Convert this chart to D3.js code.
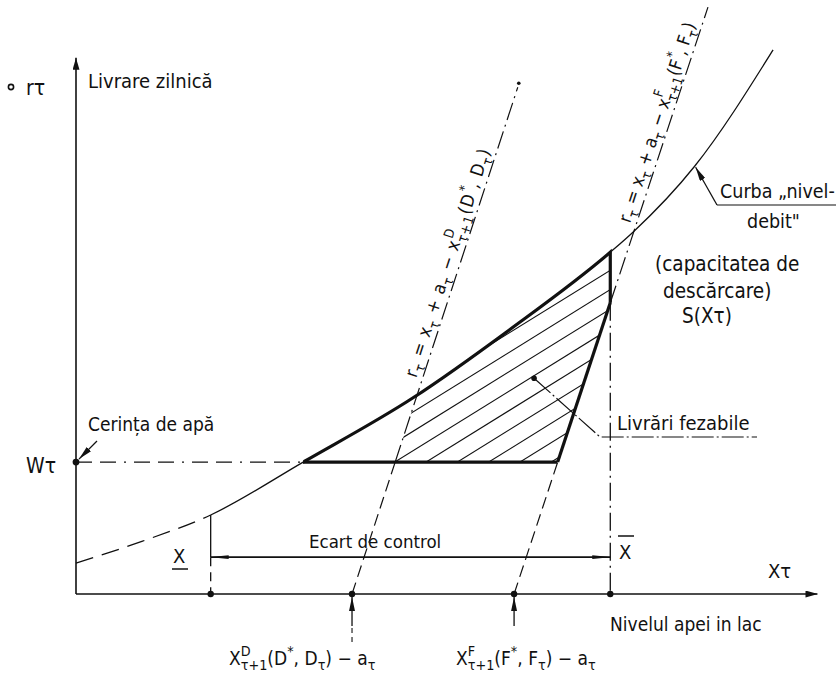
<!DOCTYPE html>
<html>
<head>
<meta charset="utf-8">
<script src="https://cdn.jsdelivr.net/npm/d3@7"></script>
<style>
  body { margin: 0; background: #fff; }
  svg { display: block; }
  text { font-family: "Liberation Sans Narrow", "DejaVu Sans Condensed", "DejaVu Sans", sans-serif; fill: #111; }
</style>
</head>
<body>
<svg id="chart" width="840" height="676"></svg>
<script>
// points marked on the level axis: X lower, x^D, x^F, X upper
const levelNames = ["Xlow", "xD", "xF", "Xhigh"]
const levelValues = [18.2, 37.3, 59.2, 72.2]
const demandW = 24.7      // Wτ, water demand
const ecartY = 6.9        // height of the "Ecart de control" arrow

// curve "nivel-debit" S(Xτ)
const curveX = [0, 9.0, 18.2, 30.7, 45.5, 58.6, 72.2, 75.3, 83.6, 94.2]
const curveY = [5.8, 9.9, 14.8, 24.7, 36.7, 49.5, 64.0, 67.8, 80.1, 101.9]

// the two constraint lines (two points each)
const lineDx = [37.3, 59.7]
const lineDy = [0, 94.9]
const lineFx = [59.2, 85.4]
const lineFy = [0, 109.9]

const feasibleDot = [61.9, 40.4]
const curveArrowAt = 83.6

let svg = d3.select("#chart")

let x = d3.scaleLinear().domain([0, 100]).range([76, 816])
let y = d3.scaleLinear().domain([0, 100]).range([594, 60])

let [xLow, xD, xF, xHigh] = levelValues
let pts = curveX.map((v, i) => [v, curveY[i]])
let curveAt = v => curveY[curveX.indexOf(v)]

// x of a straight line at a given y
let lineAt = (xs, ys, yv) => xs[0] + (yv - ys[0]) * (xs[1] - xs[0]) / (ys[1] - ys[0])
let yOnLine = (xs, ys, xv) => ys[0] + (xv - xs[0]) * (ys[1] - ys[0]) / (xs[1] - xs[0])

// where the curve crosses the demand level
let iW = curveY.findIndex(v => v >= demandW)
let xCurveW = curveX[iW - 1] + (demandW - curveY[iW - 1]) * (curveX[iW] - curveX[iW - 1]) / (curveY[iW] - curveY[iW - 1])
let xDW = lineAt(lineDx, lineDy, demandW)
let xFW = lineAt(lineFx, lineFy, demandW)
let yFHigh = yOnLine(lineFx, lineFy, xHigh)

let defs = svg.append("defs")
function marker(id, path, w, h) {
    defs.append("marker")
        .attr("id", id)
        .attr("viewBox", `0 0 ${w} ${h}`)
        .attr("refX", w).attr("refY", h / 2)
        .attr("markerWidth", w).attr("markerHeight", h)
        .attr("markerUnits", "userSpaceOnUse")
        .attr("orient", "auto-start-reverse")
      .append("path")
        .attr("d", path)
        .attr("fill", "#111")
}
marker("axisArrow", "M0,0 L12,3.5 L0,7 Z", 12, 7)
marker("barArrow", "M0,0.6 L18,2.5 L0,4.4 Z", 18, 5)
marker("leadArrow", "M0,0 L14,3 L0,6 Z", 14, 6)

// clipping regions
defs.append("clipPath").attr("id", "leftOfLow")
  .append("rect").attr("x", 0).attr("y", 0).attr("width", x(xLow)).attr("height", 676)
defs.append("clipPath").attr("id", "rightOfLow")
  .append("rect").attr("x", x(xLow)).attr("y", 0).attr("width", 840).attr("height", 676)
defs.append("clipPath").attr("id", "thickPart")
  .append("rect").attr("x", x(xCurveW)).attr("y", 0).attr("width", x(xHigh) - x(xCurveW) + 1.5).attr("height", 676)

let curveLine = d3.line().x(d => x(d[0])).y(d => y(d[1])).curve(d3.curveMonotoneX)
let underCurve = d3.area().x(d => x(d[0])).y0(y(demandW)).y1(d => y(d[1])).curve(d3.curveMonotoneX)

defs.append("clipPath").attr("id", "underCurve")
  .append("path").attr("d", underCurve(pts))
let polyD = [[xDW, demandW], [lineAt(lineDx, lineDy, 120), 120], [xHigh, 120], [xHigh, yFHigh], [xFW, demandW]]
defs.append("clipPath").attr("id", "betweenLines")
  .append("path").attr("d", "M" + polyD.map(p => [x(p[0]), y(p[1])].join(",")).join("L") + "Z")

function seg(x1, y1, x2, y2, width, dash) {
    return svg.append("line")
        .attr("x1", x(x1)).attr("y1", y(y1))
        .attr("x2", x(x2)).attr("y2", y(y2))
        .attr("stroke", "#111")
        .attr("stroke-width", width)
        .attr("stroke-dasharray", dash || null)
}
const dashed = "12,6"
const chain = "18,5,2,5"

// hatching of the feasible deliveries
let hatch = svg.append("g").attr("clip-path", "url(#underCurve)")
  .append("g").attr("clip-path", "url(#betweenLines)")
let slope = 0.62
let cornerC = y(curveAt(xHigh)) + slope * x(xHigh)
for (let c = cornerC + 18; c < cornerC + 220; c += 19.4) {
    hatch.append("line")
        .attr("x1", 300).attr("y1", c - slope * 300)
        .attr("x2", 640).attr("y2", c - slope * 640)
        .attr("stroke", "#111").attr("stroke-width", 1.1)
}

// axes
svg.append("line")
    .attr("x1", x(0)).attr("y1", y(0)).attr("x2", x(0)).attr("y2", y(100.4))
    .attr("stroke", "#111").attr("stroke-width", 1.6)
    .attr("marker-end", "url(#axisArrow)")
svg.append("line")
    .attr("x1", x(0)).attr("y1", y(0)).attr("x2", x(100.2)).attr("y2", y(0))
    .attr("stroke", "#111").attr("stroke-width", 1.6)
    .attr("marker-end", "url(#axisArrow)")

// curve: dashed below X lower, thin above, thick on the feasible part
svg.append("path").attr("d", curveLine(pts)).attr("clip-path", "url(#leftOfLow)")
    .attr("fill", "none").attr("stroke", "#111").attr("stroke-width", 1.3).attr("stroke-dasharray", "18,9")
svg.append("path").attr("d", curveLine(pts)).attr("clip-path", "url(#rightOfLow)")
    .attr("fill", "none").attr("stroke", "#111").attr("stroke-width", 1.3)
svg.append("path").attr("d", curveLine(pts)).attr("clip-path", "url(#thickPart)")
    .attr("fill", "none").attr("stroke", "#111").attr("stroke-width", 3.2)

// demand level
seg(0, demandW, xCurveW, demandW, 1.3, "16,8,16,8,2,8")
seg(xCurveW, demandW, xFW, demandW, 3.2)

// line D
seg(lineDx[0], 0, xDW, demandW, 1.2, dashed)
seg(xDW, demandW, lineDx[1], lineDy[1], 1.2, chain)
svg.append("circle").attr("cx", x(lineDx[1]) + 1).attr("cy", y(lineDy[1]) - 4).attr("r", 1.8).attr("fill", "#111")

// line F
seg(lineFx[0], 0, xFW, demandW, 1.2, dashed)
seg(xFW, demandW, xHigh, yFHigh, 3.2)
seg(xHigh, yFHigh, lineFx[1], lineFy[1], 1.2, chain)

// verticals at X lower and X upper
seg(xLow, curveAt(xLow), xLow, ecartY, 1.3)
seg(xLow, ecartY, xLow, 0, 1.3, "9,6")
seg(xHigh, curveAt(xHigh), xHigh, yFHigh, 3.2)
seg(xHigh, yFHigh, xHigh, 0, 1.3, chain)

// control range arrow
seg(xLow, ecartY, xHigh, ecartY, 1.6)
    .attr("marker-start", "url(#barArrow)")
    .attr("marker-end", "url(#barArrow)")

// dots on the level axis and the demand point
svg.selectAll(".lvl").data(levelValues).enter().append("circle")
    .attr("class", "lvl")
    .attr("cx", d => x(d)).attr("cy", y(0)).attr("r", 3.2).attr("fill", "#111")
svg.append("circle").attr("cx", x(0)).attr("cy", y(demandW)).attr("r", 3.4).attr("fill", "#111")

// arrows under the axis at x^D and x^F
;[xD, xF].forEach((v, i) => {
    svg.append("line")
        .attr("x1", x(v)).attr("y1", 626).attr("x2", x(v)).attr("y2", y(0) + 3)
        .attr("stroke", "#111").attr("stroke-width", 1.3)
        .attr("marker-end", "url(#leadArrow)")
    if (i === 0) {
        svg.append("line")
            .attr("x1", x(v)).attr("y1", 628).attr("x2", x(v)).attr("y2", 642)
            .attr("stroke", "#111").attr("stroke-width", 1.1).attr("stroke-dasharray", "5,4")
    }
})

// rich text helper: kind 0 normal, 1 sub, 2 sup, 3 sub stacked under previous sup
function rich(sel, runs, size) {
    let shift = 0
    let supW = 0
    runs.forEach(([t, k]) => {
        let target = (k === 1 || k === 3) ? size * 0.28 : k === 2 ? -size * 0.5 : 0
        let ts = sel.append("tspan").text(t)
            .attr("dy", target - shift)
            .style("font-size", (k ? size * 0.75 : size) + "px")
        if (k === 3) ts.attr("dx", -supW)
        if (k === 2) supW = ts.node().getComputedTextLength()
        shift = target
    })
    return sel
}
function label(px, py, str, size) {
    return svg.append("text").attr("x", px).attr("y", py).style("font-size", (size || 19.5) + "px").text(str)
}

// top-left
svg.append("circle").attr("cx", 11).attr("cy", 87).attr("r", 2.6).attr("fill", "none").attr("stroke", "#111").attr("stroke-width", 1.6)
label(26, 95, "rτ", 21)
label(88, 88, "Livrare zilnică", 20)

// demand
label(88, 431, "Cerința de apă", 19)
svg.append("line")
    .attr("x1", 97).attr("y1", 441).attr("x2", x(0) + 3).attr("y2", y(demandW) - 3)
    .attr("stroke", "#111").attr("stroke-width", 1.3)
    .attr("marker-end", "url(#leadArrow)")
label(26, 473, "Wτ", 21)

// control range
label(309, 548, "Ecart de control", 18.5)
label(173, 563, "X", 20)
svg.append("line").attr("x1", 172).attr("x2", 188).attr("y1", 569).attr("y2", 569).attr("stroke", "#111").attr("stroke-width", 1.5)
label(619, 559, "X", 20)
svg.append("line").attr("x1", 618).attr("x2", 634).attr("y1", 536).attr("y2", 536).attr("stroke", "#111").attr("stroke-width", 1.5)

// axis labels
label(768, 578, "Xτ", 20)
label(610, 631, "Nivelul apei in lac", 19)

rich(svg.append("text").attr("x", 229).attr("y", 665),
    [["X", 0], ["D", 2], ["τ+1", 3], ["(D", 0], ["*", 2], [", D", 0], ["τ", 1], [") − a", 0], ["τ", 1]], 19)
rich(svg.append("text").attr("x", 456).attr("y", 665),
    [["X", 0], ["F", 2], ["τ+1", 3], ["(F", 0], ["*", 2], [", F", 0], ["τ", 1], [") − a", 0], ["τ", 1]], 19)

// formulas along the two lines
function alongLine(xs, ys, yStart, runs, spacing) {
    let ang = Math.atan2(y(ys[1]) - y(ys[0]), x(xs[1]) - x(xs[0])) * 180 / Math.PI
    let ax = x(lineAt(xs, ys, yStart)), ay = y(yStart)
    let t = svg.append("text")
        .attr("transform", `translate(${ax},${ay}) rotate(${ang})`)
        .attr("x", 0).attr("y", -6)
        .style("letter-spacing", spacing + "px")
    rich(t, runs, 18)
}
alongLine(lineDx, lineDy, 40,
    [["r", 0], ["τ", 1], [" = x", 0], ["τ", 1], [" + a", 0], ["τ", 1], [" − x", 0], ["D", 2], ["τ+1", 3], ["(D", 0], ["*", 2], [", D", 0], ["τ", 1], [")", 0]], 0.9)
alongLine(lineFx, lineFy, 69,
    [["r", 0], ["τ", 1], [" = x", 0], ["τ", 1], [" + a", 0], ["τ", 1], [" − x", 0], ["F", 2], ["τ+1", 3], ["(F", 0], ["*", 2], [", F", 0], ["τ", 1], [")", 0]], 0)

// curve annotation
svg.append("line")
    .attr("x1", 717).attr("y1", 205)
    .attr("x2", x(curveArrowAt) + 1).attr("y2", y(curveAt(curveArrowAt)) + 1)
    .attr("stroke", "#111").attr("stroke-width", 1.3)
    .attr("marker-end", "url(#leadArrow)")
svg.append("line").attr("x1", 717).attr("x2", 836).attr("y1", 205).attr("y2", 205).attr("stroke", "#111").attr("stroke-width", 1.2)
label(720, 198, "Curba „nivel-", 19.5)
label(747, 228, "debit\"", 19.5)
label(655, 271, "(capacitatea de", 20.5)
label(663, 298, "descărcare)", 20.5)
label(682, 323, "S(Xτ)", 20.5)

// feasible deliveries annotation
svg.append("circle").attr("cx", x(feasibleDot[0])).attr("cy", y(feasibleDot[1])).attr("r", 2.8).attr("fill", "#111")
svg.append("path")
    .attr("d", `M${x(feasibleDot[0])},${y(feasibleDot[1])} L600,437 L757,437`)
    .attr("fill", "none").attr("stroke", "#111").attr("stroke-width", 1.2)
    .attr("stroke-dasharray", "22,3,2,3")
label(617, 430, "Livrări fezabile", 20)
</script>
</body>
</html>
